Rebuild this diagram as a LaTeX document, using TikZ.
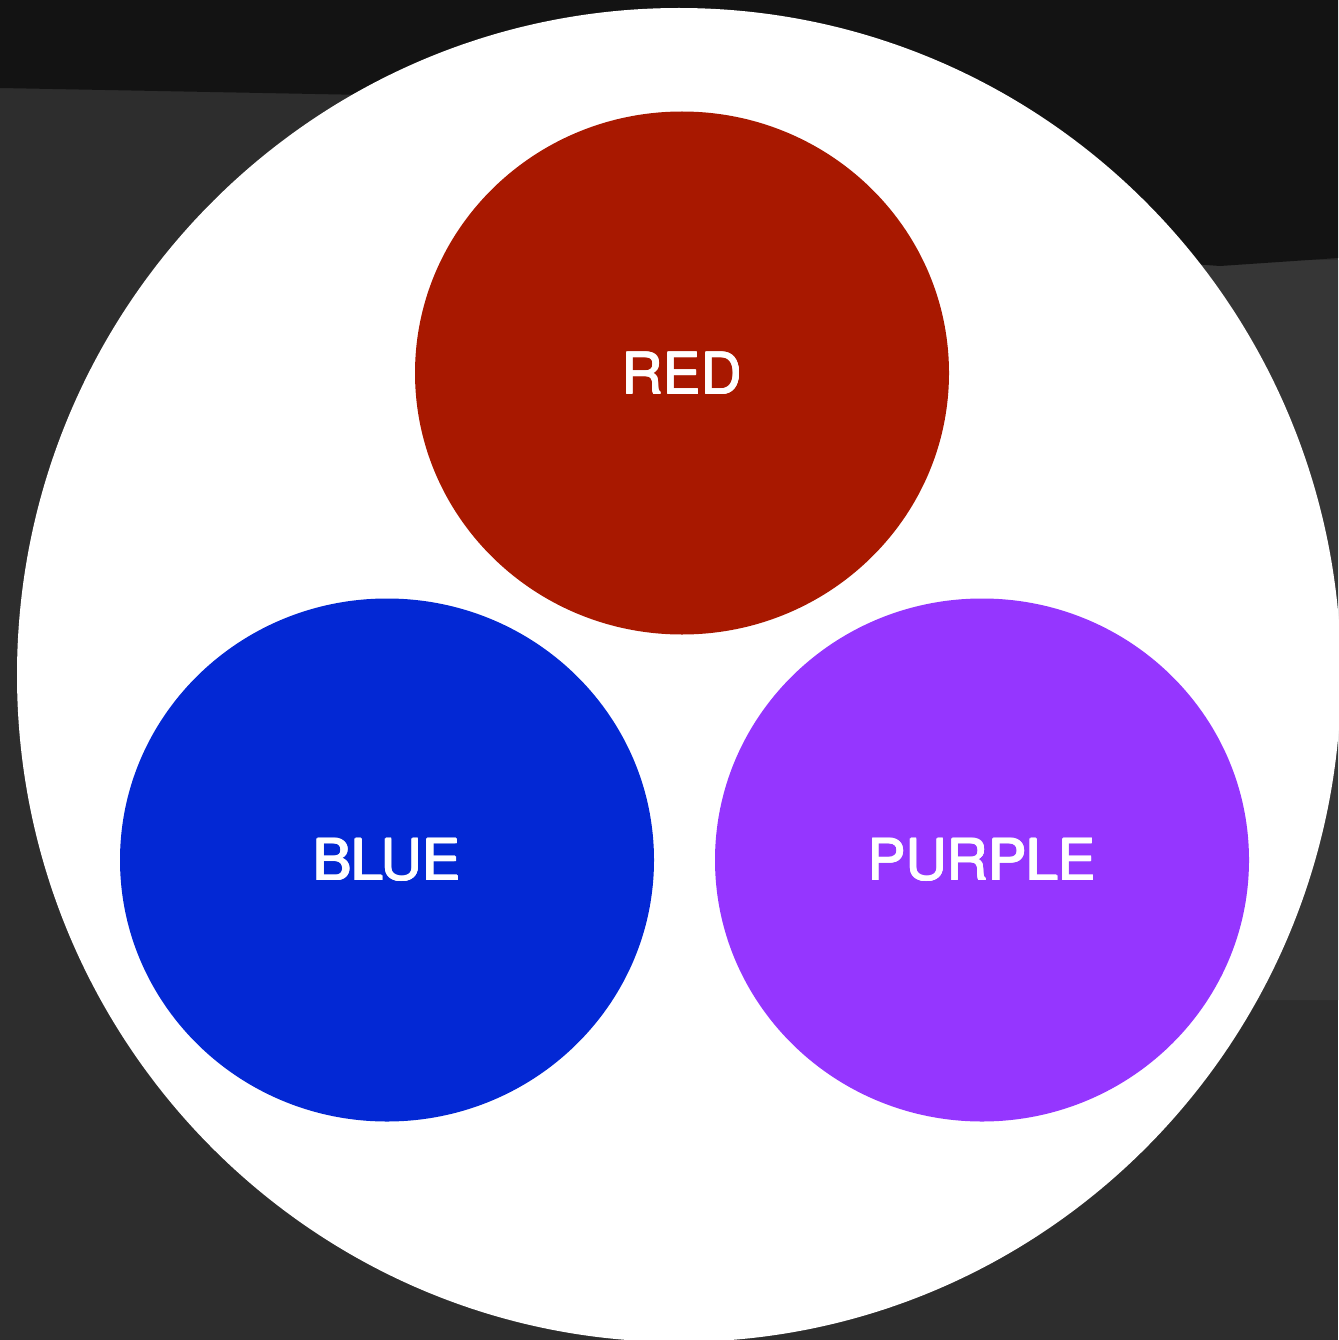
\documentclass[tikz,border=0pt]{standalone}
\usepackage{fontspec}
\setmainfont{TeX Gyre Heros}
\usetikzlibrary{shapes.geometric}
\definecolor{bgdark}{HTML}{131313}
\definecolor{bgmid}{HTML}{2D2D2D}
\definecolor{bglight}{HTML}{363636}
\definecolor{cred}{HTML}{A81800}
\definecolor{cblue}{HTML}{0328D4}
\definecolor{cpurple}{HTML}{9536FF}
\newcommand\medtxt[1]{\rlap{#1}\rlap{\hspace{0.7pt}#1}\rlap{\hspace{1.4pt}\raisebox{0.7pt}{#1}}\rlap{\hspace{0.7pt}\raisebox{1.4pt}{#1}}\rlap{\raisebox{0.7pt}{#1}}\hspace{1.4pt}#1}
\tikzset{
  blob/.style={ellipse, inner sep=0pt, minimum width=534pt, minimum height=523pt,
    text=white, font=\fontsize{57}{60}\selectfont},
}
\begin{document}
\begin{tikzpicture}[x=1pt,y=-1pt]
\useasboundingbox (0,0) rectangle (1338,1340);
% background
\fill[bgmid] (0,0) rectangle (1338,1340);
\fill[bglight] (1000,260) -- (1338,260) -- (1338,1000) -- (1250,1000) -- cycle;
\fill[bgdark] (0,0) -- (1338,0) -- (1338,258) -- (1220,266) -- (1000,250) -- (420,96) -- (0,88) -- cycle;
% big white disc
\fill[white] (679,675) ellipse [x radius=662, y radius=667];
% coloured discs
\node[blob, fill=cred] (red) at (682,373) {\medtxt{RED}};
\node[blob, fill=cblue] (blue) at (387,860) {\medtxt{BLUE}};
\node[blob, fill=cpurple] (purple) at (982,860) {\medtxt{PURPLE}};
\end{tikzpicture}
\end{document}
